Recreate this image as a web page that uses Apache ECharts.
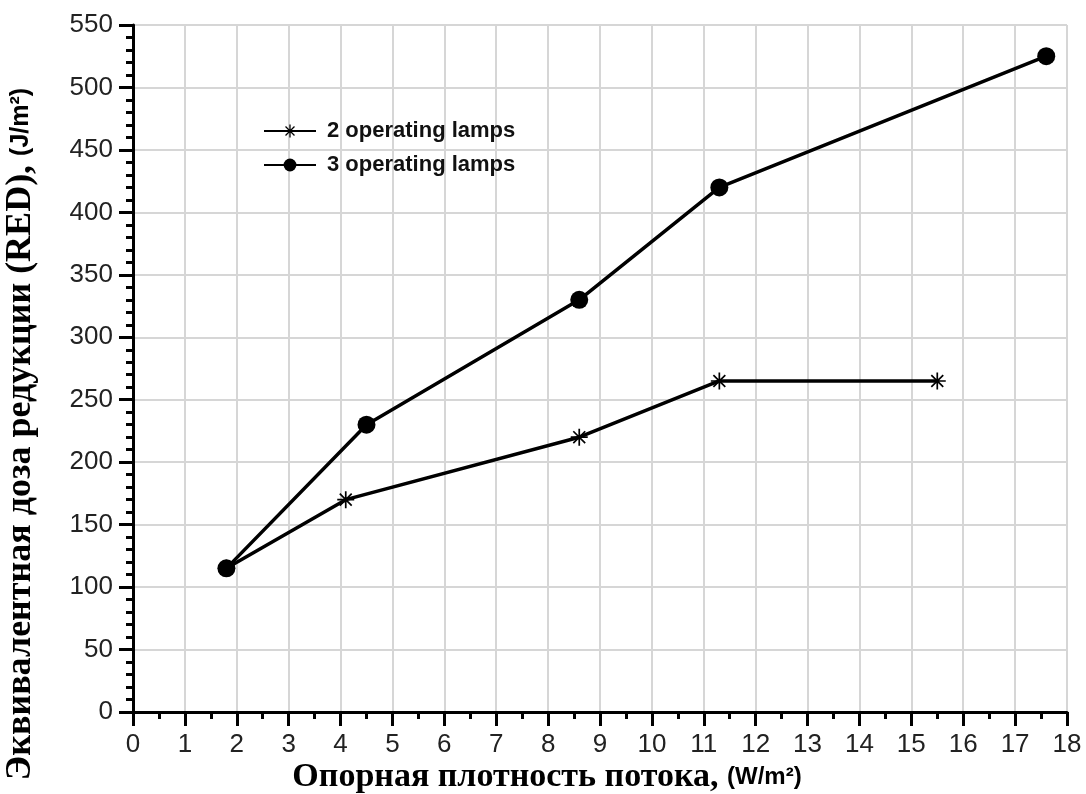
<!DOCTYPE html>
<html>
<head>
<meta charset="utf-8">
<script src="https://cdn.jsdelivr.net/npm/echarts@6/dist/echarts.min.js"></script>
<style>
  html, body { margin: 0; padding: 0; background: #fff; }
  #chart { width: 1086px; height: 794px; }
</style>
</head>
<body>
<div id="chart"></div>
<script>
// values
var seriesNames = ['2 operating lamps', '3 operating lamps'];
var twoLamps = [[1.8, 115], [4.1, 170], [8.6, 220], [11.3, 265], [15.5, 265]];
var threeLamps = [[1.8, 115], [4.5, 230], [8.6, 330], [11.3, 420], [17.6, 525]];

var yTitle = 'Эквивалентная доза редукции (RED), ';
var yUnit = '(J/m²)';
var xTitle = 'Опорная плотность потока, ';
var xUnit = '(W/m²)';

// asterisk marker
var starPath = 'path://M-1,-10L1,-10L1,10L-1,10Z' +
  'M-10,-1L10,-1L10,1L-10,1Z' +
  'M-6.3,-7.7L7.7,6.3L6.3,7.7L-7.7,-6.3Z' +
  'M6.3,-7.7L7.7,-6.3L-6.3,7.7L-7.7,6.3Z';

var tickFont = { fontFamily: 'Liberation Sans', fontSize: 26, color: '#222' };

function titleRich(size, unitSize) {
  return {
    t: { fontFamily: 'Liberation Serif', fontWeight: 'bold', fontSize: size, color: '#3a0505' },
    u: { fontFamily: 'Liberation Sans', fontWeight: 'bold', fontSize: unitSize, color: '#1a1aa8' }
  };
}

var chart = echarts.init(document.getElementById('chart'));
chart.setOption({
  animation: false,
  backgroundColor: '#fff',
  grid: { left: 133, right: 19, top: 25, bottom: 82, containLabel: false },
  legend: {
    orient: 'vertical',
    left: 258,
    top: 115,
    itemWidth: 52,
    itemHeight: 16,
    itemGap: 12,
    textStyle: { fontFamily: 'Liberation Sans', fontWeight: 'bold', fontSize: 22, color: '#111', padding: [0, 0, 0, 6] },
    data: seriesNames
  },
  xAxis: {
    type: 'value',
    min: 0, max: 18, interval: 1,
    axisLine: { lineStyle: { color: '#000', width: 3 } },
    axisTick: { length: 14, lineStyle: { color: '#000', width: 3 } },
    minorTick: { show: true, splitNumber: 2, length: 7, lineStyle: { color: '#000', width: 3 } },
    splitLine: { show: true, lineStyle: { color: '#d6d6d6', width: 2 } },
    axisLabel: Object.assign({ margin: 20 }, tickFont)
  },
  yAxis: {
    type: 'value',
    min: 0, max: 550, interval: 50,
    axisLine: { show: true, lineStyle: { color: '#000', width: 3 } },
    axisTick: { show: true, length: 14, lineStyle: { color: '#000', width: 3 } },
    minorTick: { show: true, splitNumber: 5, length: 7, lineStyle: { color: '#000', width: 3 } },
    splitLine: { show: true, lineStyle: { color: '#d6d6d6', width: 2 } },
    axisLabel: Object.assign({ margin: 20 }, tickFont)
  },
  graphic: [
    {
      type: 'text',
      x: 21, y: 434,
      rotation: Math.PI / 2,
      style: {
        rich: titleRich(36, 25),
        text: '{t|' + yTitle + '}{u|' + yUnit + '}',
        align: 'center',
        verticalAlign: 'middle'
      }
    },
    {
      type: 'text',
      x: 547, y: 777,
      style: {
        rich: titleRich(34, 24),
        text: '{t|' + xTitle + '}{u|' + xUnit + '}',
        align: 'center',
        verticalAlign: 'middle'
      }
    }
  ],
  series: [
    {
      name: seriesNames[0],
      type: 'line',
      data: twoLamps,
      symbol: starPath,
      symbolSize: 17,
      lineStyle: { color: '#000', width: 3.5 },
      itemStyle: { color: '#000' },
      z: 3
    },
    {
      name: seriesNames[1],
      type: 'line',
      data: threeLamps,
      symbol: 'circle',
      symbolSize: 18,
      lineStyle: { color: '#000', width: 3.5 },
      itemStyle: { color: '#000' },
      z: 4
    }
  ]
});
</script>
</body>
</html>
